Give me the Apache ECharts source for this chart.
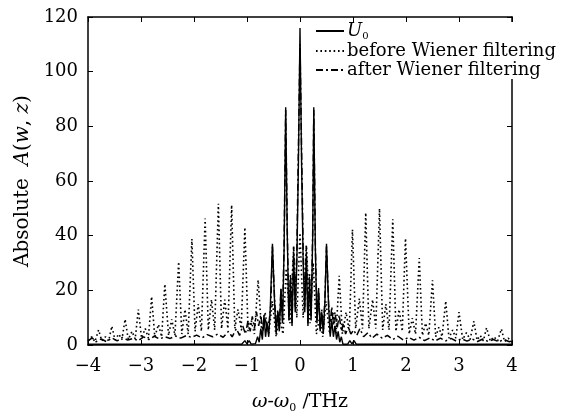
<!DOCTYPE html>
<html>
<head>
<meta charset="utf-8">
<script src="https://cdn.jsdelivr.net/npm/echarts@6/dist/echarts.min.js"></script>
<style>html,body{margin:0;padding:0;background:#fff}#c{width:573px;height:419px}</style>
</head>
<body>
<div id="c"></div>
<script>
// ---- data (frequency offset in THz, absolute amplitude) ----
var seriesNames = ['U0', 'before Wiener filtering', 'after Wiener filtering'];
var xTickLabels = ['\u22124', '\u22123', '\u22122', '\u22121', '0', '1', '2', '3', '4'];
var yTickLabels = ['0', '20', '40', '60', '80', '100', '120'];

var u0 = [
  [-4.00,0.3],[-1.10,0.3],[-1.04,1.6],[-1.00,0.4],[-0.96,1.6],[-0.92,0.3],[-0.84,0.5],[-0.80,3],[-0.77,1],[-0.74,6],
  [-0.71,2],[-0.68,11],[-0.65,3],[-0.62,8],[-0.59,3],[-0.56,14],[-0.52,37],[-0.48,16],[-0.45,4],[-0.42,12],
  [-0.39,5],[-0.36,20],[-0.33,8],[-0.30,35],[-0.27,87],[-0.24,40],[-0.21,9],[-0.18,24],[-0.15,7],[-0.12,33],
  [-0.09,12],[-0.06,30],[-0.03,66],[0.00,116],[0.03,66],[0.06,30],[0.09,12],[0.12,33],[0.15,7],[0.18,24],
  [0.21,9],[0.24,40],[0.26,87],[0.29,35],[0.32,8],[0.35,20],[0.38,5],[0.41,12],[0.44,4],[0.47,16],
  [0.50,37],[0.54,14],[0.57,3],[0.60,9],[0.63,3],[0.66,7],[0.69,2],[0.72,5],[0.75,1],[0.78,3],
  [0.81,0.3],[0.90,0.3],[0.94,1.6],[0.98,0.4],[1.02,1.6],[1.06,0.3],[4.00,0.3]
];

var beforeFiltering = [
  [-4.00,1.5],[-3.93,3.0],[-3.87,1.2],[-3.80,5.5],[-3.74,1.5],[-3.67,3.0],[-3.61,1.5],[-3.55,6.9],[-3.49,1.8],[-3.42,4.0],
  [-3.36,2.0],[-3.30,9.4],[-3.24,2.0],[-3.17,5.0],[-3.11,2.2],[-3.05,13.0],[-2.99,2.5],[-2.92,6.0],[-2.86,2.5],[-2.80,17.7],
  [-2.74,3.0],[-2.67,7.5],[-2.61,3.0],[-2.55,22.3],[-2.48,3.5],[-2.42,9.4],[-2.36,3.5],[-2.29,30.4],[-2.23,4.0],[-2.17,13.0],
  [-2.11,4.0],[-2.04,38.8],[-1.98,5.0],[-1.92,15.0],[-1.86,5.0],[-1.79,46.3],[-1.73,5.5],[-1.67,16.6],[-1.61,5.5],[-1.54,51.7],
  [-1.48,6.0],[-1.42,16.6],[-1.36,6.0],[-1.29,51.2],[-1.23,6.0],[-1.17,13.0],[-1.11,6.0],[-1.04,43.0],[-0.98,5.0],[-0.92,9.0],
  [-0.86,4.0],[-0.79,23.8],[-0.72,4.0],[-0.66,12.0],[-0.59,4.0],[-0.52,16.0],[-0.45,3.0],[-0.39,10.0],[-0.32,4.0],[-0.26,28.0],
  [-0.19,8.0],[-0.12,35.8],[-0.06,10.0],[0.00,41.0],[0.06,10.0],[0.12,36.5],[0.19,8.0],[0.25,30.0],[0.31,4.0],[0.37,10.0],
  [0.43,3.0],[0.49,16.0],[0.56,4.0],[0.62,12.0],[0.68,4.0],[0.74,25.3],[0.80,4.0],[0.87,12.0],[0.93,5.0],[0.99,42.2],
  [1.05,6.0],[1.12,17.0],[1.18,6.0],[1.24,48.4],[1.30,6.0],[1.37,16.6],[1.43,6.0],[1.50,49.9],[1.56,5.5],[1.62,15.0],
  [1.68,5.5],[1.75,46.0],[1.81,5.0],[1.87,13.0],[1.93,5.0],[1.99,39.0],[2.06,4.0],[2.12,9.8],[2.18,4.0],[2.25,31.8],
  [2.31,3.5],[2.37,8.0],[2.43,3.5],[2.50,23.7],[2.56,3.0],[2.62,6.5],[2.68,3.0],[2.75,16.1],[2.81,2.5],[2.88,5.5],
  [2.94,2.5],[3.00,12.0],[3.07,2.0],[3.14,4.5],[3.21,2.0],[3.28,8.7],[3.34,1.8],[3.40,3.5],[3.46,1.5],[3.52,6.3],
  [3.59,1.5],[3.66,3.0],[3.73,1.5],[3.80,5.9],[3.86,1.2],[3.93,2.5],[4.00,1.0]
];

var afterFiltering = [
  [-4.00,1.5],[-3.92,2.6],[-3.85,1.2],[-3.75,2.2],[-3.65,1.2],[-3.55,2.6],[-3.45,1.5],[-3.35,2.8],[-3.25,1.8],[-3.15,2.4],
  [-3.05,1.6],[-2.95,3.0],[-2.85,2.0],[-2.75,3.2],[-2.65,2.2],[-2.55,3.0],[-2.45,2.4],[-2.35,3.3],[-2.25,2.5],[-2.15,3.4],
  [-2.05,2.8],[-1.95,3.6],[-1.85,2.6],[-1.75,3.8],[-1.65,3.0],[-1.55,4.0],[-1.45,2.8],[-1.35,5.0],[-1.28,3.0],[-1.20,6.0],
  [-1.14,3.5],[-1.08,7.0],[-1.03,4.0],[-0.98,9.0],[-0.94,5.0],[-0.90,10.5],[-0.86,6.0],[-0.82,12.0],[-0.78,7.0],[-0.74,11.0],
  [-0.70,5.0],[-0.66,10.0],[-0.62,6.0],[-0.58,9.0],[-0.55,15],[-0.52,36],[-0.48,17],[-0.45,6],[-0.42,13],[-0.39,6],
  [-0.36,21],[-0.33,9],[-0.30,36],[-0.27,86],[-0.24,42],[-0.21,10],[-0.18,26],[-0.15,8],[-0.12,36],[-0.09,14],
  [-0.06,34],[-0.03,72],[0.00,110],[0.03,72],[0.06,34],[0.09,14],[0.12,36],[0.15,8],[0.18,26],[0.21,10],
  [0.24,42],[0.26,86],[0.29,36],[0.32,9],[0.35,21],[0.38,6],[0.41,13],[0.44,6],[0.47,17],[0.50,36],
  [0.54,15],[0.57,8],[0.60,14],[0.63,7],[0.66,12],[0.70,6],[0.74,11],[0.78,5],[0.82,8],[0.86,4],
  [0.91,6.5],[0.96,4.0],[1.01,5.5],[1.07,3.5],[1.13,6.0],[1.20,3.0],[1.28,4.5],[1.36,2.5],[1.45,4.0],[1.55,2.5],
  [1.65,3.5],[1.75,2.0],[1.85,3.2],[1.95,1.8],[2.05,2.8],[2.15,1.8],[2.25,2.8],[2.35,1.6],[2.45,2.6],[2.55,1.5],
  [2.65,2.5],[2.75,1.5],[2.85,2.4],[2.95,1.4],[3.05,2.3],[3.15,1.4],[3.25,2.2],[3.35,1.3],[3.45,2.2],[3.55,1.3],
  [3.65,2.0],[3.75,1.2],[3.85,2.0],[3.95,1.2],[4.00,1.5]
];

// ---- chart ----
var FONT = 'DejaVu Serif';
var chart = echarts.init(document.getElementById('c'), null, {renderer: 'canvas'});

function xLabel(v) { var i = Math.round(v + 4); return xTickLabels[i] !== undefined ? xTickLabels[i] : ''; }
function yLabel(v) { var i = Math.round(v / 20); return yTickLabels[i] !== undefined ? yTickLabels[i] : ''; }

var axisLineStyle = {color: '#000', width: 1.5};
var tick = {show: true, inside: true, length: 5, lineStyle: {color: '#000', width: 1}};

var option = {
  animation: false,
  backgroundColor: '#fff',
  grid: {left: 88, right: 61, top: 17, bottom: 70, containLabel: false},
  legend: {
    orient: 'vertical',
    left: 313, top: 22,
    itemWidth: 28, itemHeight: 12, itemGap: 1,
    backgroundColor: '#fff',
    padding: [0, 2, 0, 2],
    data: seriesNames,
    itemStyle: {opacity: 0},
    formatter: function (n) { return n === 'U0' ? '{i|U}{s|0}' : n; },
    textStyle: {
      fontFamily: FONT, fontSize: 18, color: '#000', padding: [0, 0, 0, -2],
      rich: {
        i: {fontFamily: FONT, fontSize: 18, fontStyle: 'italic', color: '#000'},
        s: {fontFamily: FONT, fontSize: 10, color: '#000', padding: [10, 0, 0, 0]}
      }
    }
  },
  xAxis: [{
    type: 'value', min: -4, max: 4, interval: 1, position: 'bottom',
    axisLine: {show: true, lineStyle: axisLineStyle, onZero: false},
    axisTick: tick, splitLine: {show: false},
    axisLabel: {formatter: xLabel, fontFamily: FONT, fontSize: 18, color: '#000', margin: 12},
    name: '{i|\u03c9}-{i|\u03c9}{s|0} /THz',
    nameLocation: 'middle', nameGap: 46,
    nameTextStyle: {
      fontFamily: FONT, fontSize: 19, color: '#000',
      rich: {
        i: {fontFamily: FONT, fontSize: 19, fontStyle: 'italic', color: '#000'},
        s: {fontFamily: FONT, fontSize: 11, color: '#000', padding: [12, 0, 0, 0]}
      }
    }
  }, {
    type: 'value', min: -4, max: 4, interval: 1, position: 'top',
    axisLine: {show: true, lineStyle: axisLineStyle, onZero: false},
    axisTick: tick, splitLine: {show: false}, axisLabel: {show: false}
  }],
  yAxis: [{
    type: 'value', min: 0, max: 120, interval: 20, position: 'left',
    axisLine: {show: true, lineStyle: axisLineStyle, onZero: false},
    axisTick: tick, splitLine: {show: false},
    axisLabel: {formatter: yLabel, fontFamily: FONT, fontSize: 18, color: '#000', margin: 10},
    name: 'Absolute\u00a0 {i|A}({i|w}, {i|z})',
    nameLocation: 'middle', nameGap: 52, nameRotate: 90,
    nameTextStyle: {
      fontFamily: FONT, fontSize: 20, color: '#000',
      rich: {i: {fontFamily: FONT, fontSize: 20, fontStyle: 'italic', color: '#000'}}
    }
  }, {
    type: 'value', min: 0, max: 120, interval: 20, position: 'right',
    axisLine: {show: true, lineStyle: axisLineStyle, onZero: false},
    axisTick: tick, splitLine: {show: false}, axisLabel: {show: false}
  }],
  series: [{
    name: seriesNames[0], type: 'line', data: u0, showSymbol: false, symbol: 'none',
    lineStyle: {color: '#000', width: 1.4, type: 'solid'}, itemStyle: {color: '#000'}, z: 4
  }, {
    name: seriesNames[1], type: 'line', data: beforeFiltering, showSymbol: false, symbol: 'none',
    lineStyle: {color: '#000', width: 1.6, type: [1.6, 2.8]}, itemStyle: {color: '#000'}, z: 2
  }, {
    name: seriesNames[2], type: 'line', data: afterFiltering, showSymbol: false, symbol: 'none',
    lineStyle: {color: '#000', width: 1.5, type: [7, 3, 2, 3]}, itemStyle: {color: '#000'}, z: 3
  }]
};
chart.setOption(option);
</script>
</body>
</html>
